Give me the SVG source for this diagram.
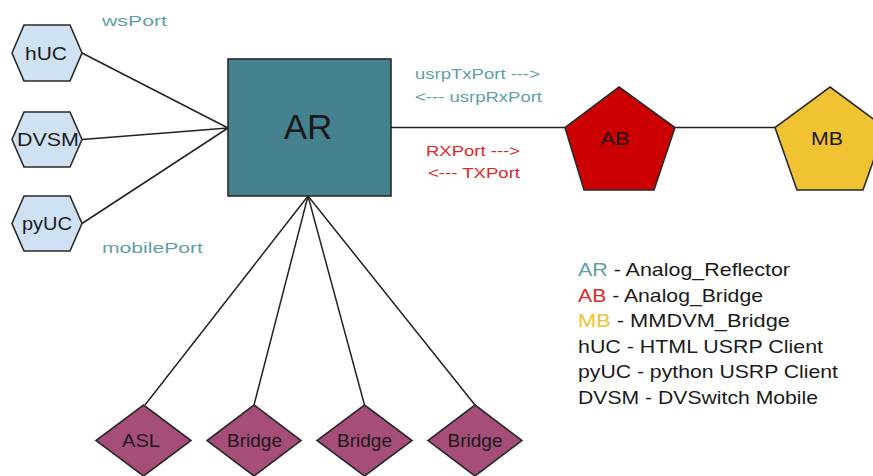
<svg xmlns="http://www.w3.org/2000/svg" width="873" height="476" viewBox="0 0 873 476">
<style>
text{font-family:"Liberation Sans",Arial,sans-serif;}
.shape{stroke:#2a2a2a;stroke-width:1.6;stroke-linejoin:miter;}
.hex{fill:#cfe2f3;}
.dia{fill:#a64d79;}
.lbl{font-size:18.5px;fill:#1a1a1a;text-anchor:middle;}
.teal{fill:#5e9fa8;}
.red{fill:#e02828;}
.yel{fill:#f1c232;}
.blk{fill:#1a1a1a;}
.port{font-size:15.5px;}
.leg{font-size:19px;}
.conn line{stroke:#222;stroke-width:1.5;}
</style>
<rect width="873" height="476" fill="#ffffff"/>
<g id="connectors" class="conn">
  <line x1="82" y1="53" x2="228" y2="128"/>
  <line x1="82" y1="139.5" x2="228" y2="128"/>
  <line x1="82" y1="223.5" x2="228" y2="128"/>
  <line x1="391" y1="127.5" x2="565" y2="127.5"/>
  <line x1="675" y1="127.5" x2="775" y2="127.5"/>
  <line x1="308" y1="196" x2="145" y2="405"/>
  <line x1="308" y1="196" x2="254" y2="405"/>
  <line x1="308" y1="196" x2="364.5" y2="405"/>
  <line x1="308" y1="196" x2="475" y2="405"/>
</g>
<g id="AR">
  <rect class="shape" x="228" y="59" width="163" height="137" fill="#45818e"/>
  <text x="308" y="139" font-size="35" fill="#1a1a1a" text-anchor="middle">AR</text>
</g>
<g id="hUC">
  <polygon class="shape hex" points="12,53 24,25 70,25 82,53 70,81 24,81"/>
  <text class="lbl" x="46" y="60" textLength="42" lengthAdjust="spacingAndGlyphs">hUC</text>
</g>
<g id="DVSM">
  <polygon class="shape hex" points="12,139.5 24,112 70,112 82,139.5 70,167 24,167"/>
  <text class="lbl" x="48" y="146" textLength="62" lengthAdjust="spacingAndGlyphs">DVSM</text>
</g>
<g id="pyUC">
  <polygon class="shape hex" points="12,223.5 24,196 70,196 82,223.5 70,251 24,251"/>
  <text class="lbl" x="47" y="230" textLength="50" lengthAdjust="spacingAndGlyphs">pyUC</text>
</g>
<g id="AB">
  <polygon class="shape" fill="#cc0000" points="619,87 675,127.5 654,190 584,190 565,127.5"/>
  <text class="lbl" x="615" y="145" textLength="29" lengthAdjust="spacingAndGlyphs">AB</text>
</g>
<g id="MB">
  <polygon class="shape" fill="#f1c232" points="830,87 885,127.5 863,190 797,190 775,127.5"/>
  <text class="lbl" x="827" y="145" textLength="32" lengthAdjust="spacingAndGlyphs">MB</text>
</g>
<g id="ASL">
  <polygon class="shape dia" points="143.5,405 191,440.5 143.5,476 96,440.5"/>
  <text class="lbl" x="141" y="447" textLength="38" lengthAdjust="spacingAndGlyphs">ASL</text>
</g>
<g id="Bridge1">
  <polygon class="shape dia" points="254,405 301,440.5 254,476 207,440.5"/>
  <text class="lbl" x="254.5" y="447" textLength="55" lengthAdjust="spacingAndGlyphs">Bridge</text>
</g>
<g id="Bridge2">
  <polygon class="shape dia" points="364.5,405 412,440.5 364.5,476 317,440.5"/>
  <text class="lbl" x="364.5" y="447" textLength="55" lengthAdjust="spacingAndGlyphs">Bridge</text>
</g>
<g id="Bridge3">
  <polygon class="shape dia" points="475,405 522,440.5 475,476 428,440.5"/>
  <text class="lbl" x="475" y="447" textLength="55" lengthAdjust="spacingAndGlyphs">Bridge</text>
</g>
<g id="port-labels" class="port">
  <text class="teal" x="102" y="26" textLength="65" lengthAdjust="spacingAndGlyphs">wsPort</text>
  <text class="teal" x="102" y="253" textLength="101" lengthAdjust="spacingAndGlyphs">mobilePort</text>
  <text class="teal" x="415" y="79" textLength="125" lengthAdjust="spacingAndGlyphs">usrpTxPort ---&gt;</text>
  <text class="teal" x="415" y="102" textLength="127" lengthAdjust="spacingAndGlyphs">&lt;--- usrpRxPort</text>
  <text class="red" x="426" y="156" textLength="94" lengthAdjust="spacingAndGlyphs">RXPort ---&gt;</text>
  <text class="red" x="428" y="178" textLength="92" lengthAdjust="spacingAndGlyphs">&lt;--- TXPort</text>
</g>
<g id="legend" class="leg">
  <text x="578" y="276" textLength="212" lengthAdjust="spacingAndGlyphs"><tspan class="teal">AR</tspan><tspan class="blk"> - Analog_Reflector</tspan></text>
  <text x="578" y="302" textLength="185" lengthAdjust="spacingAndGlyphs"><tspan class="red">AB</tspan><tspan class="blk"> - Analog_Bridge</tspan></text>
  <text x="578" y="327" textLength="212" lengthAdjust="spacingAndGlyphs"><tspan class="yel">MB</tspan><tspan class="blk"> - MMDVM_Bridge</tspan></text>
  <text class="blk" x="578" y="353" textLength="245" lengthAdjust="spacingAndGlyphs">hUC - HTML USRP Client</text>
  <text class="blk" x="578" y="378" textLength="260" lengthAdjust="spacingAndGlyphs">pyUC - python USRP Client</text>
  <text class="blk" x="578" y="404" textLength="240" lengthAdjust="spacingAndGlyphs">DVSM - DVSwitch Mobile</text>
</g>
</svg>
